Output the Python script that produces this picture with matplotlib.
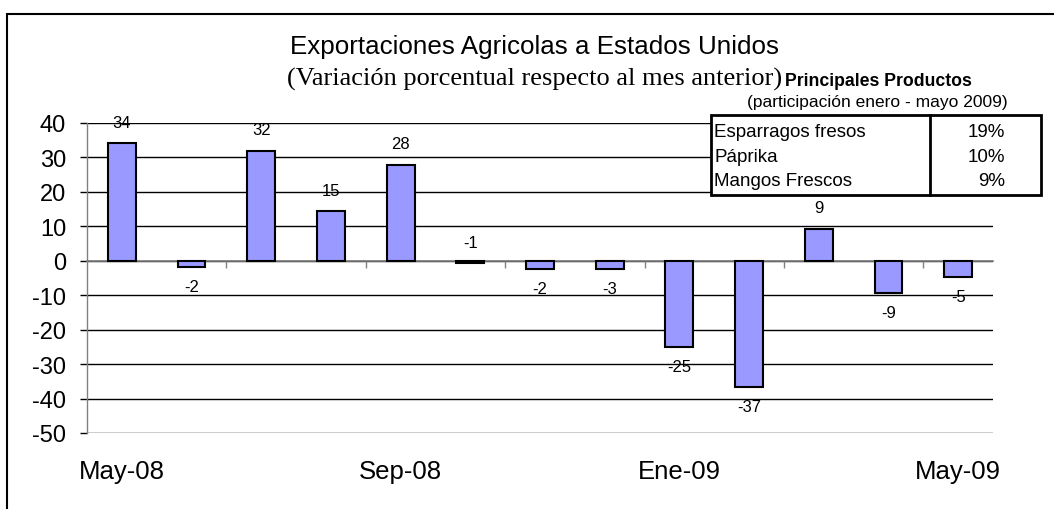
import matplotlib
matplotlib.use("Agg")
import matplotlib.pyplot as plt
from matplotlib.patches import Rectangle
from matplotlib.lines import Line2D
import numpy as np

plt.rcParams['font.family'] = ['Liberation Sans', 'DejaVu Sans']
plt.rcParams['axes.unicode_minus'] = False

# ---- data ----
months = ["May-08", "Jun-08", "Jul-08", "Ago-08", "Sep-08", "Oct-08", "Nov-08",
          "Dic-08", "Ene-09", "Feb-09", "Mar-09", "Abr-09", "May-09"]
values = [34.2, -1.8, 32.0, 14.5, 27.9, -0.6, -2.3, -2.4, -25.0, -36.7, 9.3, -9.3, -4.7]
value_labels = ["34", "-2", "32", "15", "28", "-1", "-2", "-3", "-25", "-37", "9", "-9", "-5"]
shown_months = ["May-08", "Sep-08", "Ene-09", "May-09"]

table_products = ["Esparragos fresos", "Páprika", "Mangos Frescos"]
table_shares = ["19%", "10%", "9%"]

title = "Exportaciones Agricolas a Estados Unidos"
subtitle = "(Variación porcentual respecto al mes anterior)"
table_title = "Principales Productos"
table_subtitle = "(participación enero - mayo 2009)"

W, H = 1054, 510
fig = plt.figure(figsize=(W / 100, H / 100), dpi=100)
fx = lambda px: px / W
fy = lambda py: 1 - py / H

# outer frame
fig.patches.append(Rectangle((fx(7), -0.05), 1.2, fy(15) + 0.05, transform=fig.transFigure,
                             fill=False, edgecolor='black', linewidth=1.5, clip_on=False))

ax = fig.add_axes([fx(87), fy(434), fx(993) - fx(87), fy(124) - fy(434)])
x = np.arange(len(months))
ax.bar(x, values, width=0.4, color='#9999FF', edgecolor='black', linewidth=1.5, zorder=3)
ax.set_xlim(-0.5, len(months) - 0.5)
ax.set_ylim(-50, 40)
ax.set_yticks(np.arange(-50, 41, 10))
ax.tick_params(axis='y', direction='out', length=5, width=1, color='black', labelsize=17, pad=10)
for t in ax.get_yticks():
    ax.axhline(t, color='black', linewidth=1, zorder=1)

for s in ['top', 'right']:
    ax.spines[s].set_visible(False)
ax.spines['left'].set_color('#808080')
ax.spines['left'].set_linewidth(1)
ax.spines['bottom'].set_position(('data', 0))
ax.spines['bottom'].set_color('#808080')
ax.spines['bottom'].set_linewidth(1.2)
ax.spines['bottom'].set_zorder(2)
ax.set_xticks(np.arange(1.5, len(months) - 1, 2))
ax.set_xticklabels([])
ax.tick_params(axis='x', direction='out', length=5, width=1, color='#808080')

for m in shown_months:
    i = months.index(m)
    ax.text(i, -0.123, m, transform=ax.get_xaxis_transform(), ha='center', va='center',
            fontsize=18.5)

for i, (v, lab) in enumerate(zip(values, value_labels)):
    off = 15 if v > -1 else -14
    ax.annotate(lab, (i, v), xytext=(0, off), textcoords='offset points',
                ha='center', va='center', fontsize=12, zorder=5)

# titles
fig.text(fx(534), fy(47), title, ha='center', va='center', fontsize=18.7)
fig.text(fx(782), fy(86), subtitle, ha='right', va='baseline', fontsize=19,
         family=['Liberation Serif', 'DejaVu Serif'])
fig.text(fx(785), fy(86), table_title, ha='left', va='baseline', fontsize=12.7, fontweight='bold')
fig.text(fx(877), fy(103), table_subtitle, ha='center', va='center', fontsize=12.5)

# table
tx0, tx1, ty0, ty1 = 711, 1041, 116, 196
fig.patches.append(Rectangle((fx(tx0), fy(ty1)), fx(tx1) - fx(tx0), fy(ty0) - fy(ty1),
                             transform=fig.transFigure, facecolor='white', edgecolor='black',
                             linewidth=2, zorder=10))
fig.lines.append(Line2D([fx(930), fx(930)], [fy(ty0), fy(ty1)], transform=fig.transFigure,
                        color='black', linewidth=2, zorder=11))
row_y = [133, 157, 182]
for ry, p, s in zip(row_y, table_products, table_shares):
    fig.text(fx(714), fy(ry), p, ha='left', va='center', fontsize=13.5, zorder=12)
    fig.text(fx(1005), fy(ry), s, ha='right', va='center', fontsize=13.5, zorder=12)

fig.savefig("out.png", dpi=100)
